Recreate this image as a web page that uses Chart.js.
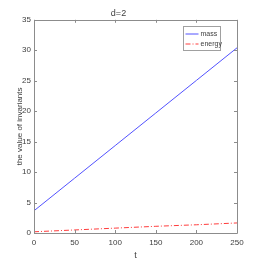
<!DOCTYPE html>
<html>
<head>
<meta charset="utf-8">
<script src="https://cdn.jsdelivr.net/npm/chart.js@4"></script>
<style>
html,body{margin:0;padding:0;background:#fff;}
canvas{display:block;}
</style>
</head>
<body>
<canvas id="c" width="262" height="262"></canvas>
<script>
const tValues = [0, 50, 100, 150, 200, 250];
const massValues = [3.65, 9.0, 14.35, 19.7, 25.05, 30.4];
const energyValues = [0.2, 0.5, 0.8, 1.1, 1.35, 1.65];
const xTicks = [0, 50, 100, 150, 200, 250];
const yTicks = [0, 5, 10, 15, 20, 25, 30, 35];
const seriesNames = ['mass', 'energy'];
const titleText = 'd=2';
const xTitle = 't';
const yTitle = 'the value of invariants';

const FONT = "'Liberation Sans Narrow', 'Liberation Sans', Arial, sans-serif";
const TXT = '#404040';
const AXIS = '#8c8c8c';

const boxTicks = {
  id: 'boxTicks',
  afterDraw(chart) {
    const {ctx, chartArea: a, scales: {x, y}} = chart;
    ctx.save();
    ctx.strokeStyle = AXIS;
    ctx.lineWidth = 1;
    ctx.beginPath();
    ctx.rect(Math.round(a.left) + 0.5, Math.round(a.top) + 0.5, Math.round(a.right - a.left), Math.round(a.bottom - a.top));
    ctx.stroke();
    const L = 3;
    ctx.beginPath();
    xTicks.forEach(v => {
      const px = Math.round(x.getPixelForValue(v)) + 0.5;
      ctx.moveTo(px, a.bottom); ctx.lineTo(px, a.bottom - L);
      ctx.moveTo(px, a.top); ctx.lineTo(px, a.top + L);
    });
    yTicks.forEach(v => {
      const py = Math.round(y.getPixelForValue(v)) + 0.5;
      ctx.moveTo(a.left, py); ctx.lineTo(a.left + L, py);
      ctx.moveTo(a.right, py); ctx.lineTo(a.right - L, py);
    });
    ctx.stroke();
    // legend
    const lx = 183.5, ly = 26.5, lw = 37, lh = 24;
    ctx.fillStyle = '#fff';
    ctx.fillRect(lx, ly, lw, lh);
    ctx.strokeStyle = '#a0a0a0';
    ctx.strokeRect(lx, ly, lw, lh);
    chart.data.datasets.forEach((ds, i) => {
      const yy = ly + 7.5 + i * 10;
      ctx.strokeStyle = ds.borderColor;
      ctx.setLineDash(ds.borderDash || []);
      ctx.beginPath();
      ctx.moveTo(lx + 2, yy); ctx.lineTo(lx + 15, yy);
      ctx.stroke();
      ctx.setLineDash([]);
      ctx.fillStyle = TXT;
      ctx.font = '7px ' + FONT;
      ctx.textBaseline = 'middle';
      ctx.textAlign = 'left';
      ctx.fillText(ds.label, lx + 17, yy);
    });
    ctx.restore();
  }
};

new Chart(document.getElementById('c'), {
  type: 'line',
  data: {
    datasets: [
      {
        label: seriesNames[0],
        data: tValues.map((t, i) => ({x: t, y: massValues[i]})),
        borderColor: '#5252ff',
        borderWidth: 1,
        pointRadius: 0,
        tension: 0
      },
      {
        label: seriesNames[1],
        data: tValues.map((t, i) => ({x: t, y: energyValues[i]})),
        borderColor: '#ff3c3c',
        borderWidth: 1,
        borderDash: [5, 2, 1, 2],
        pointRadius: 0,
        tension: 0
      }
    ]
  },
  options: {
    responsive: false,
    animation: false,
    layout: {padding: {left: 0, right: 25, top: 0, bottom: 0}},
    plugins: {
      legend: {display: false},
      tooltip: {enabled: false},
      title: {
        display: true,
        text: titleText,
        color: TXT,
        font: {family: FONT, size: 9, weight: 'normal', lineHeight: 1.2},
        padding: {top: 8, bottom: 1}
      }
    },
    scales: {
      x: {
        type: 'linear',
        min: 0, max: 250,
        afterFit(s) { s.height = 29; },
        afterBuildTicks(s) { s.ticks = xTicks.map(v => ({value: v})); },
        grid: {display: false, drawTicks: false},
        border: {display: false},
        ticks: {color: TXT, font: {family: FONT, size: 8}, padding: 5, maxRotation: 0, autoSkip: false},
        title: {display: true, text: xTitle, color: TXT, font: {family: FONT, size: 9}, padding: {top: 0, bottom: 1}}
      },
      y: {
        type: 'linear',
        min: 0, max: 35,
        afterFit(s) { s.width = 34; },
        afterBuildTicks(s) { s.ticks = yTicks.map(v => ({value: v})); },
        grid: {display: false, drawTicks: false},
        border: {display: false},
        ticks: {color: TXT, font: {family: FONT, size: 8}, padding: 3, autoSkip: false},
        title: {display: true, text: yTitle, color: TXT, font: {family: FONT, size: 8}, padding: {top: 15, bottom: 0}}
      }
    }
  },
  plugins: [boxTicks]
});
</script>
</body>
</html>
